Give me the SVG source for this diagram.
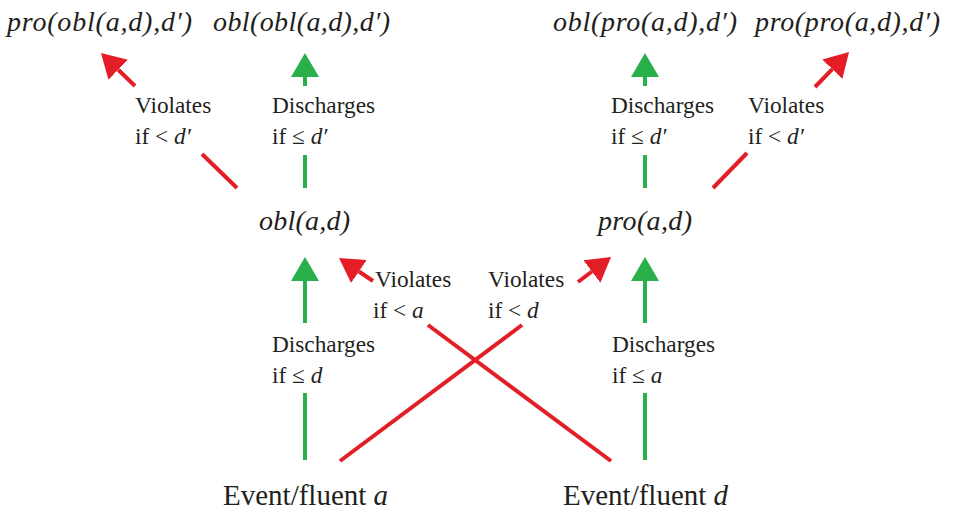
<svg xmlns="http://www.w3.org/2000/svg" width="953" height="515" viewBox="0 0 953 515">
  <style>
    text { font-family: "Liberation Serif", serif; fill: #231f20; }
    .node { font-style: italic; font-size: 28px; }
    .ev { font-size: 29px; }
    .lbl { font-size: 23.3px; }
    .it { font-style: italic; }
    .r { stroke: #e31e26; stroke-width: 4; fill: none; }
    .g { stroke: #29b04b; stroke-width: 4; fill: none; }
  </style>
  <defs>
    <marker id="hr" markerUnits="userSpaceOnUse" markerWidth="26" markerHeight="30" viewBox="0 -15 26 30" refX="0" refY="0" orient="auto">
      <path d="M0,-14 L24,0 L0,14 z" fill="#e31e26"/>
    </marker>
    <marker id="hg" markerUnits="userSpaceOnUse" markerWidth="26" markerHeight="30" viewBox="0 -15 26 30" refX="0" refY="0" orient="auto">
      <path d="M0,-14 L24,0 L0,14 z" fill="#29b04b"/>
    </marker>
  </defs>

  <g id="n-pro-obl"><text class="node" x="7" y="31" textLength="185" lengthAdjust="spacing">pro(obl(a,d),d′)</text></g>
  <g id="n-obl-obl"><text class="node" x="213" y="31" textLength="177" lengthAdjust="spacing">obl(obl(a,d),d′)</text></g>
  <g id="n-obl-pro"><text class="node" x="553" y="31" textLength="184" lengthAdjust="spacing">obl(pro(a,d),d′)</text></g>
  <g id="n-pro-pro"><text class="node" x="755" y="31" textLength="185" lengthAdjust="spacing">pro(pro(a,d),d′)</text></g>
  <g id="n-obl"><text class="node" x="259" y="230" textLength="91" lengthAdjust="spacing">obl(a,d)</text></g>
  <g id="n-pro"><text class="node" x="598" y="230" textLength="94" lengthAdjust="spacing">pro(a,d)</text></g>
  <g id="n-a"><text class="ev" x="223" y="505">Event/fluent <tspan class="it">a</tspan></text></g>
  <g id="n-d"><text class="ev" x="563" y="505">Event/fluent <tspan class="it">d</tspan></text></g>

  <g id="connectors">
    <line class="r" x1="237" y1="188" x2="202" y2="154"/>
    <line class="r" x1="135" y1="86" x2="118.2" y2="69.7" marker-end="url(#hr)"/>
    <line class="g" x1="305" y1="188" x2="305" y2="155"/>
    <line class="g" x1="305" y1="86" x2="305" y2="77" marker-end="url(#hg)"/>
    <line class="g" x1="645" y1="188" x2="645" y2="155"/>
    <line class="g" x1="645" y1="86" x2="645" y2="77" marker-end="url(#hg)"/>
    <line class="r" x1="713" y1="188" x2="747" y2="153"/>
    <line class="r" x1="815" y1="87" x2="832.3" y2="69.2" marker-end="url(#hr)"/>
    <line class="g" x1="305" y1="460" x2="305" y2="393"/>
    <line class="g" x1="305" y1="323" x2="305" y2="281" marker-end="url(#hg)"/>
    <line class="g" x1="645" y1="460" x2="645" y2="393"/>
    <line class="g" x1="645" y1="323" x2="645" y2="281" marker-end="url(#hg)"/>
    <line class="r" x1="611" y1="461" x2="428" y2="325"/>
    <line class="r" x1="373" y1="281" x2="358.9" y2="271.5" marker-end="url(#hr)"/>
    <line class="r" x1="340" y1="461" x2="522" y2="325"/>
    <line class="r" x1="578" y1="282" x2="591.9" y2="271.5" marker-end="url(#hr)"/>
  </g>

  <g id="labels">
    <text class="lbl" x="135" y="113">Violates</text>
    <text class="lbl" x="135" y="144">if &lt; <tspan class="it">d′</tspan></text>
    <text class="lbl" x="272" y="113">Discharges</text>
    <text class="lbl" x="272" y="144">if ≤ <tspan class="it">d′</tspan></text>
    <text class="lbl" x="611" y="113">Discharges</text>
    <text class="lbl" x="611" y="144">if ≤ <tspan class="it">d′</tspan></text>
    <text class="lbl" x="748" y="113">Violates</text>
    <text class="lbl" x="748" y="144">if &lt; <tspan class="it">d′</tspan></text>
    <text class="lbl" x="375" y="287">Violates</text>
    <text class="lbl" x="373" y="318">if &lt; <tspan class="it">a</tspan></text>
    <text class="lbl" x="488" y="287">Violates</text>
    <text class="lbl" x="488" y="318">if &lt; <tspan class="it">d</tspan></text>
    <text class="lbl" x="272" y="352">Discharges</text>
    <text class="lbl" x="272" y="383">if ≤ <tspan class="it">d</tspan></text>
    <text class="lbl" x="612" y="352">Discharges</text>
    <text class="lbl" x="612" y="383">if ≤ <tspan class="it">a</tspan></text>
  </g>
</svg>
